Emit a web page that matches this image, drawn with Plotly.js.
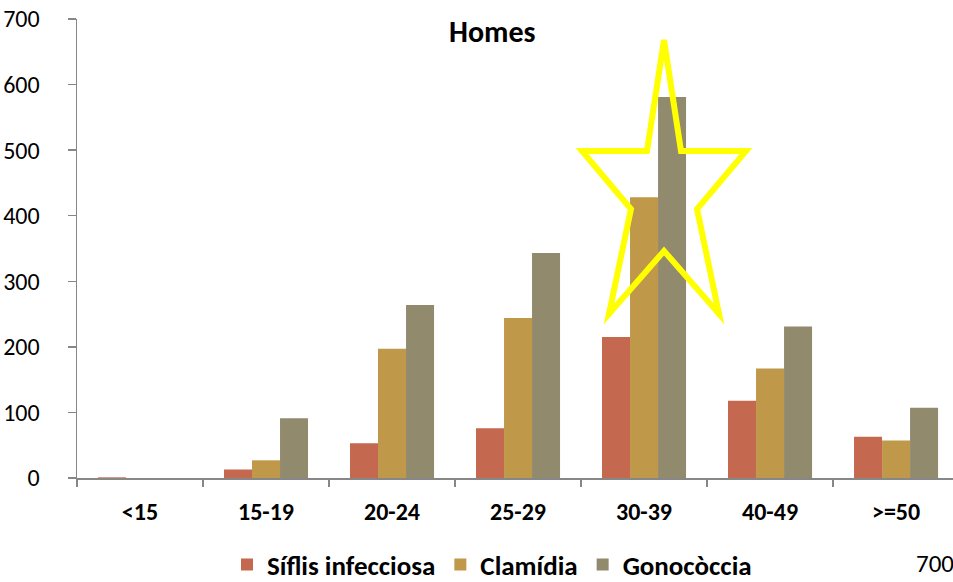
<!DOCTYPE html>
<html><head><meta charset="utf-8">
<script src="https://cdn.plot.ly/plotly-3.0.1.min.js"></script>
<style>html,body{margin:0;padding:0;background:#fff}#chart{width:953px;height:582px}</style>
</head><body><div id="chart"></div>
<script>
const categories = ['<15','15-19','20-24','25-29','30-39','40-49','>=50'];
const sifilis = [1, 13, 53, 76, 215, 118, 63];
const clamidia = [0, 27, 197, 244, 428, 167, 57];
const gonococcia = [0, 91, 264, 343, 581, 231, 107];
const seriesNames = ['Síflis infecciosa', 'Clamídia', 'Gonocòccia'];
const yTicks = [0,100,200,300,400,500,600,700];

const FONT = 'Carlito, Lato, sans-serif';
const colors = ['#C4684F', '#C0984A', '#928A6D'];
const L = 77, R = 953, T = 19, B = 478;
const px = x => (x - L) / (R - L);
const py = y => (B - y) / (B - T);

const traces = [sifilis, clamidia, gonococcia].map((v, i) => ({
  type: 'bar', x: categories, y: v, name: seriesNames[i],
  marker: {color: colors[i], line: {width: 0}}
}));

const starPts = [[664,40],[647,151],[582,151],[631,209],[609,314],[664,251],[719,314],[697,209],[746,151],[681,151]];
const path = 'M ' + starPts.map(p => px(p[0]).toFixed(4) + ' ' + py(p[1]).toFixed(4)).join(' L ') + ' Z';

const layout = {
  width: 953, height: 582,
  margin: {l: L, r: 0, t: T, b: 582 - B, autoexpand: false},
  paper_bgcolor: '#fff', plot_bgcolor: '#fff',
  barmode: 'group', bargap: 0.333, bargroupgap: 0,
  showlegend: true,
  font: {family: FONT, color: '#000'},
  xaxis: {
    type: 'category', range: [-0.5, 6.452], fixedrange: true, automargin: false,
    showline: true, linecolor: '#878787', linewidth: 1.5,
    ticks: 'outside', tickson: 'boundaries', ticklen: 7, tickcolor: '#878787', tickwidth: 1.5,
    tickfont: {size: 24, family: FONT, weight: 'bold'}, ticklabelstandoff: 12,
    showgrid: false, zeroline: false
  },
  yaxis: {
    range: [0, 700], tickvals: yTicks, ticktext: yTicks.map(String), automargin: false,
    showline: true, linecolor: '#878787', linewidth: 1.5,
    ticks: 'outside', ticklen: 8, tickcolor: '#878787', tickwidth: 1.5,
    tickfont: {size: 24, family: FONT}, ticklabelstandoff: 23,
    showgrid: false, zeroline: false
  },
  legend: {
    orientation: 'h', x: px(492), xanchor: 'center', y: py(565), yanchor: 'middle',
    font: {size: 27, family: FONT, weight: 'bold'}, bgcolor: 'rgba(0,0,0,0)'
  },
  annotations: [
    {text: '<b>Homes</b>', xref: 'paper', yref: 'paper', x: px(492), y: py(31), xanchor: 'center', yanchor: 'middle',
     showarrow: false, font: {size: 30, family: FONT}},
    {text: '700', xref: 'paper', yref: 'paper', x: px(914), y: py(563), xanchor: 'left', yanchor: 'middle',
     showarrow: false, font: {size: 25, family: FONT}}
  ],
  shapes: [
    {type: 'path', xref: 'paper', yref: 'paper', path: path, line: {color: '#FFFF00', width: 6}, fillcolor: 'rgba(0,0,0,0)', layer: 'above'}
  ]
};
Plotly.newPlot('chart', traces, layout, {staticPlot: true, displayModeBar: false});
</script></body></html>
